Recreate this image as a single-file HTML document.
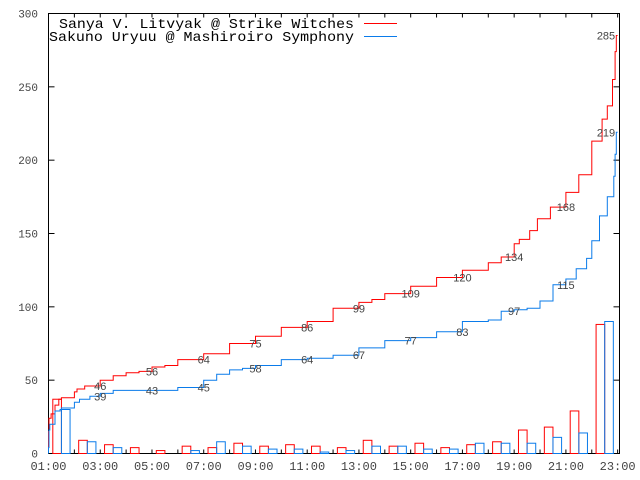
<!DOCTYPE html>
<html><head><meta charset="utf-8"><style>
html,body{margin:0;padding:0;background:#fff;}
svg{display:block;font-family:"Liberation Mono",monospace;}
</style></head><body>
<svg id="chart" width="640" height="480" viewBox="0 0 640 480">
<rect x="0" y="0" width="640" height="480" fill="#fff"/>
<g id="grid"></g>
<g id="bars"></g>
<g id="lines"></g>
<g id="labels"></g>
<g>
<text x="354" y="28" text-anchor="end" font-size="14" textLength="295" lengthAdjust="spacingAndGlyphs" fill="#000">Sanya V. Litvyak @ Strike Witches</text>
<line x1="364" y1="23.5" x2="397" y2="23.5" stroke="#f00" stroke-width="1"/>
<text x="354" y="41" text-anchor="end" font-size="14" textLength="305" lengthAdjust="spacingAndGlyphs" fill="#000">Sakuno Uryuu @ Mashiroiro Symphony</text>
<line x1="364" y1="36.5" x2="397" y2="36.5" stroke="#0a7bea" stroke-width="1"/>
</g>
</svg>
<script>
const hours = [1,2,3,4,5,6,7,8,9,10,11,12,13,14,15,16,17,18,19,20,21,22];
const redHourly = [37,9,6,4,2,5,4,7,5,6,5,4,9,5,7,4,6,8,16,18,29,88];
const blueHourly = [30,8,4,0,0,2,8,5,3,3,1,2,5,5,3,3,7,7,7,11,14,90];
const redT = [1.0,1.02,1.1,1.25,1.4,1.5,2.0,2.1,2.4,3.0,3.5,4.0,4.5,5.0,5.5,6.0,7.0,8.0,9.0,10.0,11.0,12.0,13.0,13.5,14.0,15.0,16.0,17.0,18.0,18.5,19.0,19.2,19.6,19.9,20.4,21.0,21.5,22.0,22.4,22.6,22.8,22.9,22.95,23.0];
const redV = [0,15,24,27,33,37,38,42,44,46,50,53,55,56,59,60,64,68,75,80,86,90,99,103,105,109,114,120,125,130,134,143,146,152,160,168,178,190,213,228,237,255,274,285];
const blueT = [1.0,1.02,1.05,1.25,1.45,1.5,2.0,2.2,2.6,3.0,3.5,4.0,5.0,6.0,7.0,7.5,8.0,8.5,9.0,10.0,11.0,12.0,13.0,14.0,15.0,16.0,17.0,18.0,18.5,19.0,19.5,20.0,20.5,21.0,21.4,21.8,22.0,22.3,22.6,22.85,22.9,22.95,23.0];
const blueV = [0,4,16,20,29,30,31,35,37,39,41,43,43,43,45,50,54,57,58,60,64,65,67,72,77,79,83,90,91,97,98,99,104,115,119,126,133,145,162,175,189,204,219];
const labelT = [3,5,7,9,11,13,15,17,19,21,23];
const redLabels = [46,56,64,75,86,99,109,120,134,168,285];
const blueLabels = [39,43,45,58,64,67,77,83,97,115,219];
const yTicks = [0,50,100,150,200,250,300];
const xTickLabels = ["01:00","03:00","05:00","07:00","09:00","11:00","13:00","15:00","17:00","19:00","21:00","23:00"];

const NS="http://www.w3.org/2000/svg";
const L=48.5,R=619.5,T=13.5,B=453.5;
function xs(t){return L+(t-1)*25.87;}
function ys(v){return B-v*(B-T)/300;}
function mk(tag,attrs,parent){const e=document.createElementNS(NS,tag);for(const k in attrs)e.setAttribute(k,attrs[k]);parent.appendChild(e);return e;}
const grid=document.getElementById('grid'),bars=document.getElementById('bars'),lines=document.getElementById('lines'),labels=document.getElementById('labels');

// frame
let fr=mk('rect',{x:L,y:T,width:R-L,height:B-T,fill:'none',stroke:'#000','stroke-width':1},grid);


yTicks.forEach(v=>{
  const y=ys(v);
  let a=mk('line',{x1:L,y1:y,x2:L+6,y2:y,stroke:'#000'},grid);
  
  
  let b=mk('line',{x1:R-6,y1:y,x2:R,y2:y,stroke:'#000'},grid);
  
  
  let t=mk('text',{x:38,y:y+4,'text-anchor':'end','font-size':11,fill:'#444'},grid);
  t.textContent=v;
  
  
});
for(let h=1;h<=23;h++){
  const x=xs(h);
  let a=mk('line',{x1:x,y1:B,x2:x,y2:B-4,stroke:'#000'},grid);
  
  
  let b=mk('line',{x1:x,y1:T,x2:x,y2:T+4,stroke:'#000'},grid);
  
  
}
xTickLabels.forEach((s,i)=>{
  let t=mk('text',{x:xs(1+2*i),y:470,'text-anchor':'middle','font-size':12,fill:'#444'},grid);
  t.textContent=s;
  
  
});

// bars
hours.forEach((h,i)=>{
  const x0=xs(h+1/6),x1=xs(h+1/2),x2=xs(h+5/6);
  if(redHourly[i]>0){
    let r=mk('rect',{x:x0,y:ys(redHourly[i]),width:x1-x0,height:B-ys(redHourly[i]),fill:'none',stroke:'#f00','stroke-width':1},bars);
    
    
  }
  if(blueHourly[i]>0){
    let r=mk('rect',{x:x1,y:ys(blueHourly[i]),width:x2-x1,height:B-ys(blueHourly[i]),fill:'none',stroke:'#0a7bea','stroke-width':1},bars);
    
    
  }
});

function stepPath(ts,vs){
  let d='M'+xs(ts[0]).toFixed(1)+','+ys(vs[0]).toFixed(1);
  for(let i=1;i<ts.length;i++){
    d+=' V'+ys(vs[i]).toFixed(1)+' H'+xs(ts[i]).toFixed(1);
  }
  return d;
}
let pr=mk('path',{d:stepPath(redT,redV),fill:'none',stroke:'#f00','stroke-width':1},lines);


let pb=mk('path',{d:stepPath(blueT,blueV),fill:'none',stroke:'#0a7bea','stroke-width':1},lines);



function addLabels(vals,name){
  labelT.forEach((t,i)=>{
    let x=Math.min(xs(t),606);
    let e=mk('text',{x:x,y:ys(vals[i])+4,'text-anchor':'middle','font-size':11,fill:'#444','font-family':'Liberation Sans, sans-serif'},labels);
    e.textContent=vals[i];
    
    
  });
}
addLabels(redLabels,'label-sanya');
addLabels(blueLabels,'label-sakuno');
</script>
</body></html>
